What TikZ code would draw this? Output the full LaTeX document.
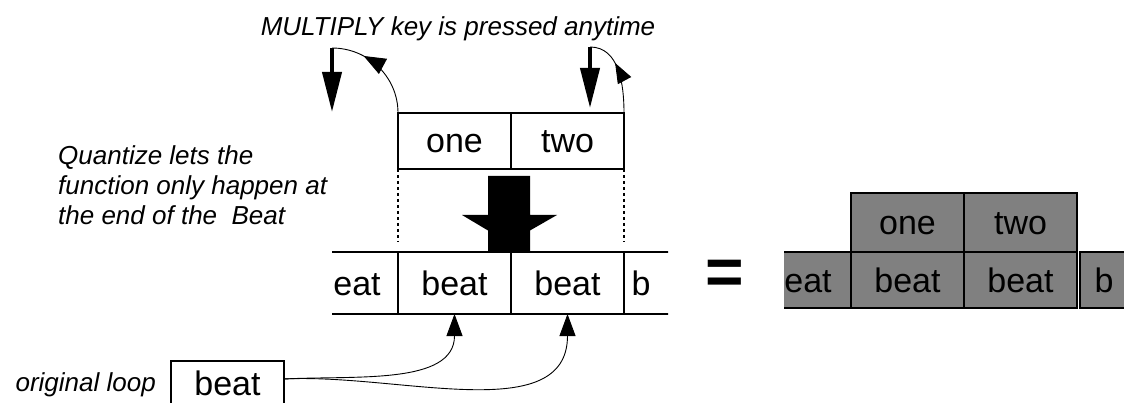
\documentclass[tikz,border=0pt]{standalone}
\usepackage{fontspec}
\setmainfont{Liberation Sans}
\usetikzlibrary{arrows.meta, positioning, decorations.markings}

\begin{document}
\begin{tikzpicture}[
  x=1pt, y=-1pt,
  word/.style={inner sep=0pt, text height=24pt, text depth=0pt, font=\fontsize{34}{40}\selectfont},
  cell/.style={word, draw, line width=2pt, outer sep=0pt, minimum width=113pt, minimum height=62pt},
  greycell/.style={cell, fill=gray, minimum height=56pt},
  note/.style={font=\fontsize{26}{30}\selectfont\itshape, align=left, inner sep=0pt},
  link/.style={line width=0.9pt, -{Triangle[length=22pt, width=16pt]}},
  turn/.style={line width=0.9pt, postaction={decorate}},
  press/.style={line width=4pt, -{Triangle[length=40pt, width=19pt]}},
  guide/.style={line width=2pt, dash pattern=on 3pt off 3pt}
]
\useasboundingbox (0,0) rectangle (1124,403);

% the two pressed parts
\node[cell, minimum height=56pt] (one) at (454.5,141) {one};
\node[cell, minimum height=56pt, right=0pt of one] (two) {two};

% the running loop, cut at both ends
\begin{scope}
  \clip (332,240) rectangle (668,330);
  \node[cell] (b1) at (341.5,283) {};
  \node[cell, right=0pt of b1] (b2) {beat};
  \node[cell, right=0pt of b2] (b3) {beat};
  \node[cell, right=0pt of b3] (b4) {};
\end{scope}
\node[word] (eat1) at (357,283) {eat};
\node[word] (bb1) at (641,283) {b};

\draw[guide, shorten >=10pt] (one.south west) -- (b2.north west);
\draw[guide, shorten >=10pt] (two.south east) -- (b3.north east);

% big arrow down onto the loop
\fill (488,176) -- (530,176) -- (530,215) -- (557,215) -- (530,230.5) -- (530,252)
  -- (488,252) -- (488,230.5) -- (462,215) -- (488,215) -- cycle;

% key presses
\coordinate (lturn) at (332,48);
\coordinate (ldown) at (332,112);
\coordinate (rturn) at (590,47);
\coordinate (rdown) at (590,108);
\draw[turn, decoration={markings, mark=at position 0.68 with {\arrow{Triangle[length=22pt, width=17pt]}}}]
  (one.north west) to[out=90, in=0] (lturn);
\draw[press] (lturn) -- (ldown);
\draw[turn, decoration={markings, mark=at position 0.62 with {\arrow{Triangle[length=20pt, width=15pt]}}}]
  (two.north east) to[out=90, in=0] (rturn);
\draw[press] (rturn) -- (rdown);

\node[note, anchor=base] (multiply) at (458,36) {MULTIPLY key is pressed anytime};
\node[note, anchor=west] (quantize) at (58,185) {Quantize lets the\\function only happen at\\the end of the\ \ Beat};

% original loop
\node[cell, minimum height=44pt, anchor=north] (orig) at (227.5,361) {beat};
\node[note, anchor=base east] (origlabel) at (156,391) {original loop};
\draw[link] ([yshift=4pt]orig.east) to[out=3, in=-90] (b2.south);
\draw[link] ([yshift=4pt]orig.east) to[out=3, in=-90] (b3.south);

\node[font=\fontsize{66}{66}\selectfont\bfseries, inner sep=0pt] (equals) at (725,277) {=};

% result
\begin{scope}
  \clip (784,180) rectangle (1124,320);
  \node[greycell] (g1) at (794.5,280) {};
  \node[greycell, right=0pt of g1] (g2) {beat};
  \node[greycell, right=0pt of g2] (g3) {beat};
  \node[greycell, right=3pt of g3] (g4) {};
  \node[greycell, minimum height=59pt, above=0pt of g2] (gone) {one};
  \node[greycell, minimum height=59pt, right=0pt of gone] (gtwo) {two};
\end{scope}
\node[word] (eat2) at (808,280) {eat};
\node[word] (bb2) at (1104,280) {b};
\end{tikzpicture}
\end{document}
